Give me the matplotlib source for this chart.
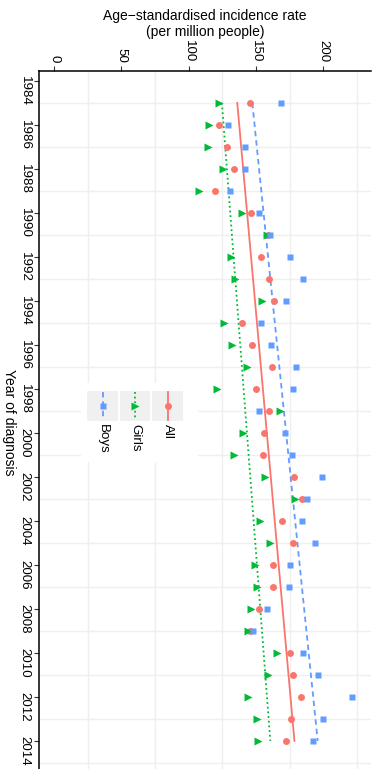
import numpy as np
import matplotlib.pyplot as plt
from matplotlib.patches import Rectangle

plt.rcParams['font.family'] = ['Liberation Sans', 'DejaVu Sans']

years = np.arange(1985, 2015)
all_rate = [145.8, 122.3, 128.5, 133.9, 119.6, 146.0, 159.0, 154.0, 159.9, 163.4,
            139.9, 146.8, 161.6, 149.8, 159.9, 155.9, 155.4, 178.0, 183.9, 169.1,
            177.2, 162.4, 162.9, 152.0, 145.6, 175.5, 177.7, 183.7, 175.7, 172.3]
girls_rate = [122.5, 115.1, 114.6, 125.7, 107.9, 139.9, 157.9, 131.2, 134.7, 154.2,
              126.5, 132.4, 143.3, 121.0, 167.8, 140.1, 133.9, 156.4, 179.2, 153.0,
              160.1, 149.0, 151.0, 146.3, 143.8, 165.3, 159.2, 144.3, 150.5, 151.2]
boys_rate = [168.6, 129.2, 141.8, 141.6, 130.7, 152.5, 160.4, 175.5, 184.7, 172.3,
             153.5, 161.1, 179.5, 177.5, 152.5, 171.5, 176.5, 198.8, 188.1, 184.4,
             194.1, 175.0, 174.3, 157.9, 147.5, 185.1, 195.8, 221.5, 200.0, 192.6]

labels = ["All", "Girls", "Boys"]
colors = ["#F8766D", "#00BA38", "#619CFF"]
markers = ["o", ">", "s"]
msizes = [5.0, 5.6, 4.9]
styles = ["-", (0, (1, 1.6)), (0, (3, 2.2))]

W, H = 382, 769
fig = plt.figure(figsize=(W / 100, H / 100), dpi=100)

# axes box in pixels: x 39..371, y 71..773 (bottom runs off the figure)
ax = fig.add_axes([39 / W, 1 - 772.8 / H, 332.2 / W, 701.8 / H])
ax.set_xlim(-11.2, 235.5)
ax.set_ylim(2015.45, 1983.55)

for s in ["right", "bottom"]:
    ax.spines[s].set_visible(False)
for s in ["top", "left"]:
    ax.spines[s].set_linewidth(1.1)
    ax.spines[s].set_color("black")

ax.xaxis.tick_top()
ax.xaxis.set_label_position("top")
ax.set_xticks([0, 50, 100, 150, 200])
ax.set_xticks([25, 75, 125, 175, 225], minor=True)
ax.set_yticks(np.arange(1984, 2015, 2))
ax.set_yticks(np.arange(1985, 2016, 2), minor=True)
ax.tick_params(which="major", length=3.6, width=0.8, color="#333333",
               labelsize=9.6, pad=2.5)
ax.tick_params(which="minor", length=0)
for t in ax.get_xticklabels() + ax.get_yticklabels():
    t.set_rotation(-90)
ax.grid(which="minor", color="#EFEFEF", lw=1.0)
ax.grid(which="major", visible=False)
ax.set_axisbelow(True)

ax.set_xlabel("Age\u2212standardised incidence rate\n(per million people)",
              fontsize=10, labelpad=3, linespacing=1.15)
ax.set_ylabel("Year of diagnosis", fontsize=10, rotation=-90, va="top", labelpad=2)

for vals, c, m, ms, ls in zip([all_rate, girls_rate, boys_rate], colors, markers, msizes, styles):
    vals = np.array(vals)
    ax.plot(vals, years, ls="none", marker=m, ms=ms, color=c, mec="none", zorder=3)
    k, b = np.polyfit(years, vals, 1)
    ax.plot(k * years + b, years, color=c, lw=1.3, ls=ls, zorder=2)

# legend drawn by hand (rotated layout), in pixel coordinates
lg = fig.add_axes([81 / W, 1 - 462 / H, 117 / W, 79 / H])
lg.set_xlim(81, 198)
lg.set_ylim(462, 383)
lg.axis("off")
lg.add_patch(Rectangle((81, 383), 117, 79, color="white", zorder=0))
key_x = [87.3, 119.8, 152.3]
for i, j in enumerate([2, 1, 0]):
    x0 = key_x[i]
    lg.add_patch(Rectangle((x0, 390.7), 30.5, 30, color="#F0F0F0", lw=0, zorder=1))
    cx = x0 + 15.25
    lg.plot([cx, cx], [391.5, 420], color=colors[j], lw=1.3, ls=styles[j], zorder=2)
    lg.plot([cx], [405.7], marker=markers[j], ms=msizes[j], color=colors[j], mec="none", zorder=3)
    lg.text(cx, 424.5, labels[j], rotation=-90, ha="center", va="top", fontsize=9.6)

fig.savefig("out.png", dpi=100, facecolor="white")
